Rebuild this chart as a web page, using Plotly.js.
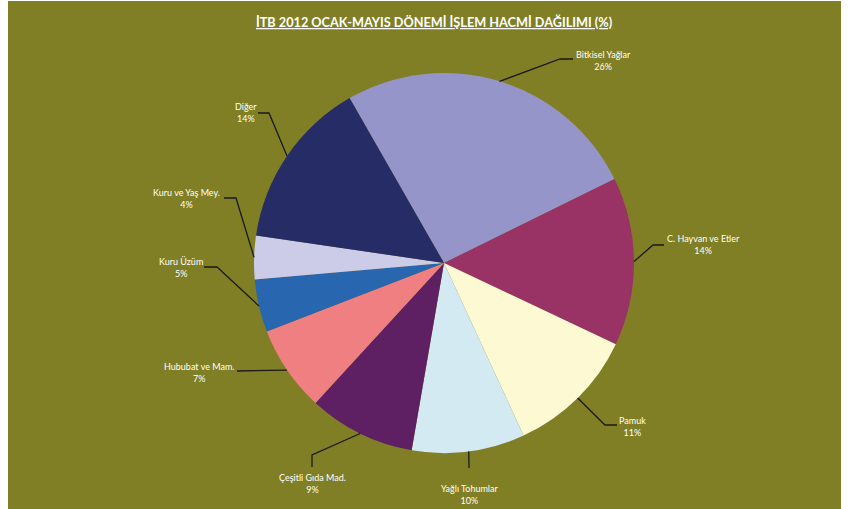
<!DOCTYPE html>
<html><head><meta charset="utf-8">
<script src="https://cdn.plot.ly/plotly-3.0.1.min.js"></script>
<style>
html,body{margin:0;padding:0;background:#ffffff;}
#chart{position:absolute;left:8px;top:1px;width:833px;height:508px;}
</style></head>
<body><div id="chart"></div>
<script>
// ---- data ----
const categories = ["Bitkisel Yağlar","C. Hayvan ve Etler","Pamuk","Yağlı Tohumlar","Çeşitli Gıda Mad.","Hububat ve Mam.","Kuru Üzüm","Kuru ve Yaş Mey.","Diğer"];
const shares = [26.0, 14.3, 11.1, 9.6, 9.1, 7.3, 4.5, 3.7, 14.4];
const colors = ["#9595C9","#993366","#FDF9D2","#D3EAF2","#5E2062","#F07F81","#2966B0","#CDCCE8","#262D66"];
const titleText = "İTB 2012 OCAK-MAYIS DÖNEMİ İŞLEM HACMİ DAĞILIMI (%)";

// ---- layout geometry (page pixels) ----
const W = 833, H = 508, OX = 8, OY = 1;
const CX = 444, CY = 263, R = 190, ROT = -29.8;
// label text centre, elbow, end of leader (page px)
const labelPos = [
  {t:[603,60],  e:[560,59],  n:[573,59]},
  {t:[703,244], e:[653,245], n:[664,245]},
  {t:[632,426], e:[605,425], n:[617,425]},
  {t:[469,494], e:[469,468], n:[469,468]},
  {t:[312,483], e:[312,455], n:[312,467]},
  {t:[199,372], e:[237,371], n:[237,371]},
  {t:[181,267], e:[217,267], n:[204,267]},
  {t:[186,198], e:[236,198], n:[224,198]},
  {t:[246,112], e:[269,113], n:[258,113]}
];
const px = (x)=> (x-OX)/W;
const py = (y)=> 1-(y-OY)/H;

const total = shares.reduce((a,b)=>a+b,0);
const annotations = [];
const shapes = [];
let acc = ROT;
shares.forEach((v,i)=>{
  const span = v/total*360;
  const mid = (acc + span/2) * Math.PI/180;
  acc += span;
  const tip = [CX + R*Math.sin(mid), CY - R*Math.cos(mid)];
  const lp = labelPos[i];
  shapes.push({type:'path', xref:'paper', yref:'paper',
    path:`M${px(tip[0])},${py(tip[1])} L${px(lp.e[0])},${py(lp.e[1])} L${px(lp.n[0])},${py(lp.n[1])}`,
    line:{color:'#1a1a1a', width:1.3}});
  annotations.push({xref:'paper', yref:'paper', x:px(lp.t[0]), y:py(lp.t[1]),
    xanchor:'center', yanchor:'middle', showarrow:false, align:'center',
    text: categories[i] + '<br>' + Math.round(v/total*100) + '%',
    font:{family:'Lato, "Liberation Sans", sans-serif', size:9, color:'#ffffff'}});
});
annotations.push({xref:'paper', yref:'paper', x:px(435), y:py(22), xanchor:'center', yanchor:'middle',
  showarrow:false, text:'<b><u>'+titleText+'</u></b>',
  font:{family:'Lato, "Liberation Sans", sans-serif', size:12.7, color:'#ffffff'}});

const trace = {
  type:'pie', labels:categories, values:shares, sort:false, direction:'clockwise',
  rotation:ROT, textinfo:'none', hoverinfo:'none',
  marker:{colors:colors, line:{width:0}},
  domain:{x:[px(CX-R), px(CX+R)], y:[py(CY+R), py(CY-R)]}
};
const layout = {
  width:W, height:H, margin:{l:0,r:0,t:0,b:0},
  paper_bgcolor:'#807F25', plot_bgcolor:'#807F25', showlegend:false,
  annotations:annotations, shapes:shapes
};
Plotly.newPlot('chart',[trace],layout,{displayModeBar:false, staticPlot:true});
</script></body></html>
